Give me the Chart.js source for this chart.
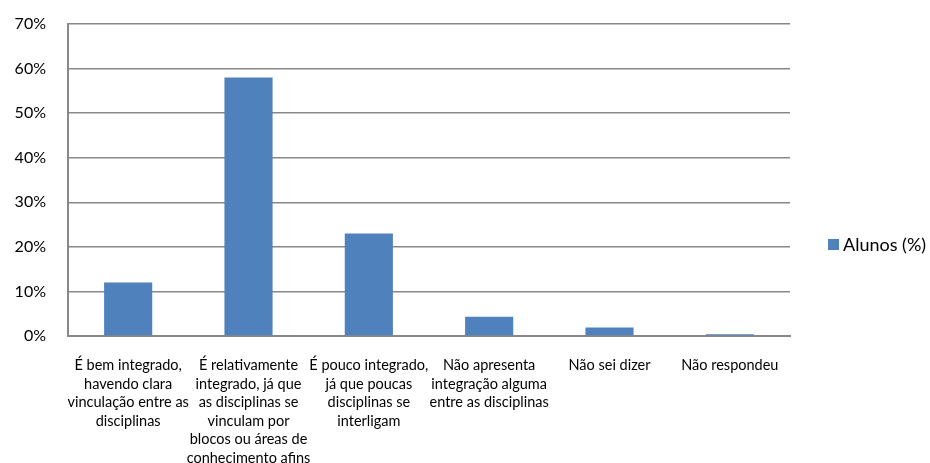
<!DOCTYPE html>
<html><head><meta charset="utf-8">
<script src="https://cdn.jsdelivr.net/npm/chart.js@4.4.0/dist/chart.umd.min.js"></script>
<style>html,body{margin:0;padding:0;background:#fff}#wrap{width:930px;height:463px}</style>
</head><body><div id="wrap"><canvas id="c" width="930" height="463"></canvas></div>
<script>
const categories = [
  ["É bem integrado,","havendo clara","vinculação entre as","disciplinas"],
  ["É relativamente","integrado, já que","as disciplinas se","vinculam por","blocos ou áreas de","conhecimento afins"],
  ["É pouco integrado,","já que poucas","disciplinas se","interligam"],
  ["Não apresenta","integração alguma","entre as disciplinas"],
  ["Não sei dizer"],
  ["Não respondeu"]
];
const seriesName = "Alunos (%)";
const alunos = [12, 58, 23, 4.3, 1.9, 0.4];
const yTicks = [0, 10, 20, 30, 40, 50, 60, 70];

const FONT = "Lato, 'Open Sans', sans-serif";
const BLUE = "#4f81bd";
const GRID = "#888888";

const legendPlugin = {
  id: 'customLegend',
  afterDraw(chart) {
    const ctx = chart.ctx;
    ctx.save();
    ctx.fillStyle = BLUE;
    ctx.fillRect(828, 239, 11, 11);
    ctx.fillStyle = "#000";
    ctx.font = "18px " + FONT;
    ctx.textBaseline = "middle";
    ctx.textAlign = "left";
    ctx.fillText(chart.data.datasets[0].label, 843, 245);
    ctx.restore();
  }
};

new Chart(document.getElementById('c'), {
  type: 'bar',
  data: {
    labels: categories,
    datasets: [{
      label: seriesName,
      data: alunos,
      backgroundColor: BLUE,
      borderWidth: 0,
      categoryPercentage: 1,
      barPercentage: 0.4
    }]
  },
  options: {
    responsive: false,
    animation: false,
    layout: { padding: { top: 24, right: 140, left: 0, bottom: 0 } },
    plugins: { legend: { display: false }, tooltip: { enabled: false } },
    scales: {
      x: {
        grid: { display: false, drawTicks: false },
        border: { display: true, color: GRID, width: 2 },
        ticks: { color: "#000", font: { family: FONT, size: 14.5, lineHeight: 1.28 }, padding: 20, maxRotation: 0, autoSkip: false },
        afterFit(s) { s.height = 463 - 336; }
      },
      y: {
        min: 0, max: 70,
        afterBuildTicks(s) { s.ticks = yTicks.map(v => ({ value: v })); },
        grid: { color: GRID, lineWidth: 1.5, drawTicks: true, tickLength: 22, tickColor: 'rgba(0,0,0,0)' },
        border: { display: true, color: GRID, width: 2 },
        ticks: { color: "#000", font: { family: FONT, size: 16 }, padding: 0, callback: v => v + "%" },
        afterFit(s) { s.width = 68; }
      }
    }
  },
  plugins: [legendPlugin]
});
</script></body></html>
